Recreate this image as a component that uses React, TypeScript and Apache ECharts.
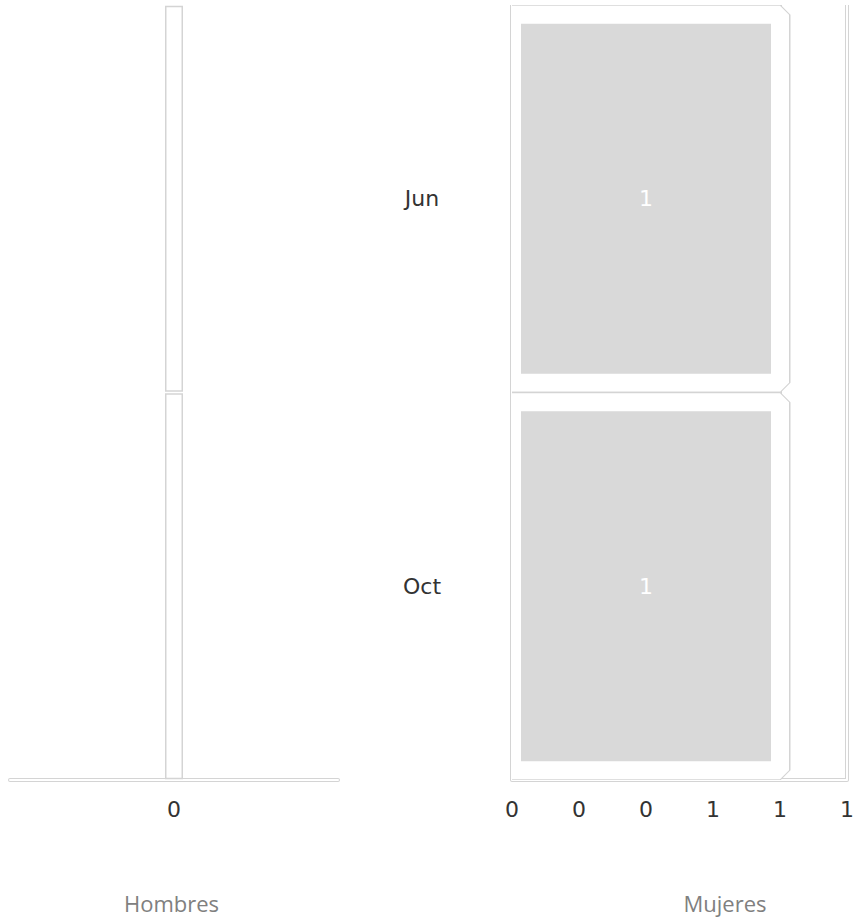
import { useEffect, useRef } from 'react';
import * as echarts from 'echarts';

// ---- data ----
const categories = ['Jun', 'Oct'];
const hombres = [0, 0];
const mujeres = [0.8, 0.8];
const leftTicks = [-1, 0, 1];
const rightMin = 0;
const rightMax = 1;
const rightStep = 0.2;
const sideNames = ['Hombres', 'Mujeres'];

const OUTLINE = '#d4d4d4';
const TICK_FONT = '"DejaVu Sans", Verdana, sans-serif';
const NAME_FONT = '"Open Sans", "Noto Sans", sans-serif';

const outerLine = { color: OUTLINE, width: 4 };
const innerLine = { color: '#ffffff', width: 2 };

function makeRenderItem(showLabel: boolean, borderW: number) {
  return (params: any, api: any) => {
    const val = api.value(0);
    const cat = api.value(1);
    const p0 = api.coord([0, cat]);
    const p1 = api.coord([val, cat]);
    const band = api.size([0, 1])[1];
    const h = band * 0.95;
    const x = Math.min(p0[0], p1[0]);
    const rawW = Math.abs(p1[0] - p0[0]);
    const degenerate = rawW < 1;
    const w = degenerate ? 0.01 : rawW;
    const join = degenerate ? 'miter' : 'bevel';
    const shape = { x: x - (w - rawW) / 2, y: p0[1] - h / 2, width: w, height: h };
    const front: any = {
      type: 'rect',
      shape,
      style: {
        fill: '#d9d9d9',
        stroke: '#ffffff',
        lineWidth: borderW,
        lineJoin: join,
      },
    };
    if (showLabel) {
      front.textContent = {
        style: {
          text: String(Math.round(val)),
          fill: '#ffffff',
          fontSize: 22,
          fontFamily: TICK_FONT,
        },
      };
      front.textConfig = { position: 'inside' };
    }
    return {
      type: 'group',
      children: [
        {
          type: 'rect',
          shape,
          style: {
            fill: 'none',
            stroke: OUTLINE,
            lineWidth: borderW + 3,
            lineJoin: join,
          },
        },
        front,
      ],
    };
  };
}

export default function App() {
  const ref = useRef<HTMLDivElement>(null);

  useEffect(() => {
    if (!ref.current) return;
    const chart = echarts.init(ref.current, undefined, { renderer: 'svg' });
    const tickLabel = {
      margin: 18,
      fontSize: 22,
      color: '#333',
      fontFamily: TICK_FONT,
    };
    const option: any = {
      animation: false,
      backgroundColor: '#ffffff',
      grid: [
        { left: 10, right: 516, top: 5, bottom: 139, containLabel: false, outerBoundsMode: 'none' },
        { left: 512, right: 7, top: 5, bottom: 139, containLabel: false, outerBoundsMode: 'none' },
      ],
      xAxis: [
        // left grid: outline layer
        {
          type: 'value',
          gridIndex: 0,
          position: 'bottom',
          min: leftTicks[0],
          max: leftTicks[leftTicks.length - 1],
          interval: 1,
          z: 0,
          axisLine: { show: true, lineStyle: outerLine },
          axisTick: { show: false },
          splitLine: { show: false },
          axisLabel: { show: false },
        },
        // left grid: white layer + labels
        {
          type: 'value',
          gridIndex: 0,
          position: 'bottom',
          min: leftTicks[0],
          max: leftTicks[leftTicks.length - 1],
          interval: 1,
          z: 1,
          axisLine: { show: true, lineStyle: innerLine },
          axisTick: { show: false },
          splitLine: { show: false },
          axisLabel: {
            ...tickLabel,
            formatter: (v: number) => (v === 0 ? '0' : ''),
          },
        },
        // right grid: outline layer
        {
          type: 'value',
          gridIndex: 1,
          position: 'bottom',
          min: rightMin,
          max: rightMax,
          interval: rightStep,
          z: 0,
          axisLine: { show: true, lineStyle: outerLine },
          axisTick: { show: false },
          splitLine: { show: true, lineStyle: outerLine },
          axisLabel: { show: false },
        },
        // right grid: white layer + labels
        {
          type: 'value',
          gridIndex: 1,
          position: 'bottom',
          min: rightMin,
          max: rightMax,
          interval: rightStep,
          z: 1,
          axisLine: { show: true, lineStyle: innerLine },
          axisTick: { show: false },
          splitLine: { show: true, lineStyle: innerLine },
          axisLabel: {
            ...tickLabel,
            formatter: (v: number) => String(Math.round(v)),
          },
        },
      ],
      yAxis: [
        {
          type: 'category',
          gridIndex: 0,
          position: 'left',
          inverse: true,
          data: categories,
          axisLine: { show: false },
          axisTick: { show: false },
          axisLabel: { show: false },
          splitLine: { show: false },
        },
        {
          type: 'category',
          gridIndex: 1,
          position: 'left',
          inverse: true,
          data: categories,
          axisLine: { show: false },
          axisTick: { show: false },
          splitLine: { show: false },
          axisLabel: {
            align: 'center',
            margin: 90,
            fontSize: 22,
            color: '#333',
            fontFamily: TICK_FONT,
          },
        },
      ],
      series: [
        {
          name: sideNames[0],
          type: 'custom',
          xAxisIndex: 1,
          yAxisIndex: 0,
          clip: true,
          encode: { x: 0, y: 1 },
          data: hombres.map((v, i) => [v, categories[i]]),
          renderItem: makeRenderItem(false, 15),
        },
        {
          name: sideNames[1],
          type: 'custom',
          xAxisIndex: 3,
          yAxisIndex: 1,
          clip: true,
          encode: { x: 0, y: 1 },
          data: mujeres.map((v, i) => [v, categories[i]]),
          renderItem: makeRenderItem(true, 18),
        },
      ],
      graphic: [
        {
          type: 'text',
          x: 171.5,
          y: 902.5,
          style: {
            text: sideNames[0],
            align: 'center',
            verticalAlign: 'middle',
            fontSize: 22,
            fontFamily: NAME_FONT,
            fill: '#808080',
          },
        },
        {
          type: 'text',
          x: 725,
          y: 902.5,
          style: {
            text: sideNames[1],
            align: 'center',
            verticalAlign: 'middle',
            fontSize: 22,
            fontFamily: NAME_FONT,
            fill: '#808080',
          },
        },
      ],
    };
    chart.setOption(option);
    return () => chart.dispose();
  }, []);

  return (
    <div
      ref={ref}
      style={{ position: 'fixed', left: 0, top: 0, width: 854, height: 919 }}
    />
  );
}
